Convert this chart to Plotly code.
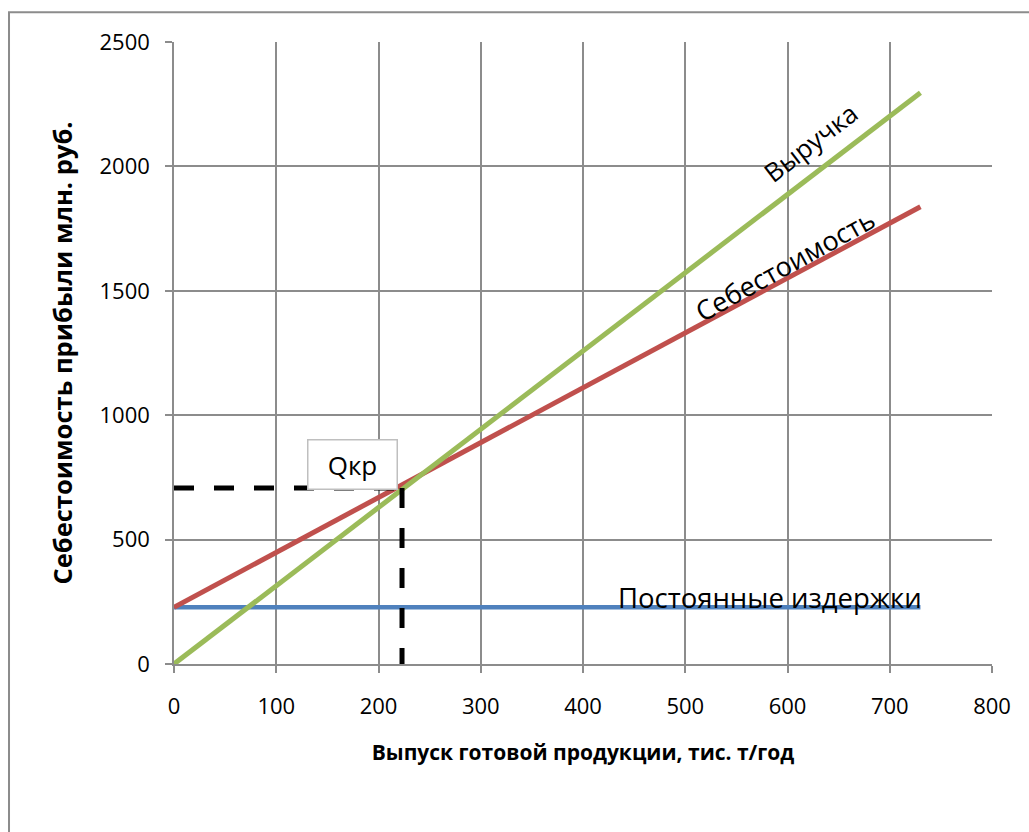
import plotly.graph_objects as go

# Output volume, thousand t/year (line end points)
q = [0, 730]
revenue = [0, 2296]          # Выручка
total_cost = [228, 1838]     # Себестоимость
fixed_cost = [228, 228]      # Постоянные издержки

# Break-even point
q_break = 223
v_break = 707

x_ticks = [0, 100, 200, 300, 400, 500, 600, 700, 800]
y_ticks = [0, 500, 1000, 1500, 2000, 2500]

FONT = "Open Sans"
BLUE = "#4F81BD"
RED = "#C0504D"
GREEN = "#9BBB59"
GRID = "#8C8C8C"

fig = go.Figure()

fig.add_trace(go.Scatter(x=q, y=fixed_cost, mode="lines",
                         line=dict(color=BLUE, width=4.5), hoverinfo="skip"))
fig.add_trace(go.Scatter(x=q, y=total_cost, mode="lines",
                         line=dict(color=RED, width=5), hoverinfo="skip"))
fig.add_trace(go.Scatter(x=q, y=revenue, mode="lines",
                         line=dict(color=GREEN, width=5), hoverinfo="skip"))

# Dashed guides to the break-even point
fig.add_trace(go.Scatter(x=[0, q_break], y=[v_break, v_break], mode="lines",
                         line=dict(color="black", width=5, dash="20px,20px"),
                         hoverinfo="skip"))
fig.add_trace(go.Scatter(x=[q_break, q_break], y=[v_break, 0], mode="lines",
                         line=dict(color="black", width=5, dash="20px,20px"),
                         hoverinfo="skip"))

annotations = [
    dict(x=q_break, y=v_break, text="Qкр", showarrow=False,
         xanchor="right", yanchor="bottom", xshift=-4, yshift=-2,
         width=86, height=46, bgcolor="white", bordercolor="#BFBFBF",
         borderwidth=1.5, font=dict(family=FONT, size=26, color="black")),
    dict(x=622, y=2094, text="Выручка", showarrow=False, textangle=-37.5,
         font=dict(family=FONT, size=26, color="black")),
    dict(x=598, y=1604, text="Себестоимость", showarrow=False, textangle=-29,
         font=dict(family=FONT, size=27, color="black")),
    dict(x=583, y=268, text="Постоянные издержки", showarrow=False,
         font=dict(family=FONT, size=27.5, color="black")),
]

fig.update_layout(
    width=1029, height=832,
    margin=dict(l=174, r=37, t=42, b=168),
    paper_bgcolor="white", plot_bgcolor="white",
    showlegend=False,
    font=dict(family=FONT, color="black"),
    annotations=annotations,
    shapes=[dict(type="rect", xref="paper", yref="paper",
                 x0=-0.2017, x1=1.1, y0=-0.35, y1=1.048,
                 line=dict(color="#8C8C8C", width=2), layer="below")],
)

fig.update_xaxes(
    range=[0, 800], tickvals=x_ticks, ticktext=[str(v) for v in x_ticks],
    showgrid=True, gridcolor=GRID, gridwidth=1.5,
    showline=True, linecolor=GRID, linewidth=1.5,
    ticks="outside", ticklen=7, tickcolor=GRID, tickwidth=1.5,
    tickfont=dict(family=FONT, size=22), ticklabelstandoff=15,
    zeroline=False, mirror=False,
    title=dict(text="<b>Выпуск готовой продукции, тис. т/год</b>",
               font=dict(family=FONT, size=21), standoff=26),
)
fig.update_yaxes(
    range=[0, 2500], tickvals=y_ticks, ticktext=[str(v) for v in y_ticks],
    showgrid=True, gridcolor=GRID, gridwidth=1.5,
    showline=True, linecolor=GRID, linewidth=1.5,
    ticks="outside", ticklen=7, tickcolor=GRID, tickwidth=1.5,
    tickfont=dict(family=FONT, size=22), ticklabelstandoff=11,
    zeroline=False,
    title=dict(text="<b>Себестоимость прибыли млн. руб.</b>",
               font=dict(family=FONT, size=25.5), standoff=20),
)

fig.write_html("out.html")
